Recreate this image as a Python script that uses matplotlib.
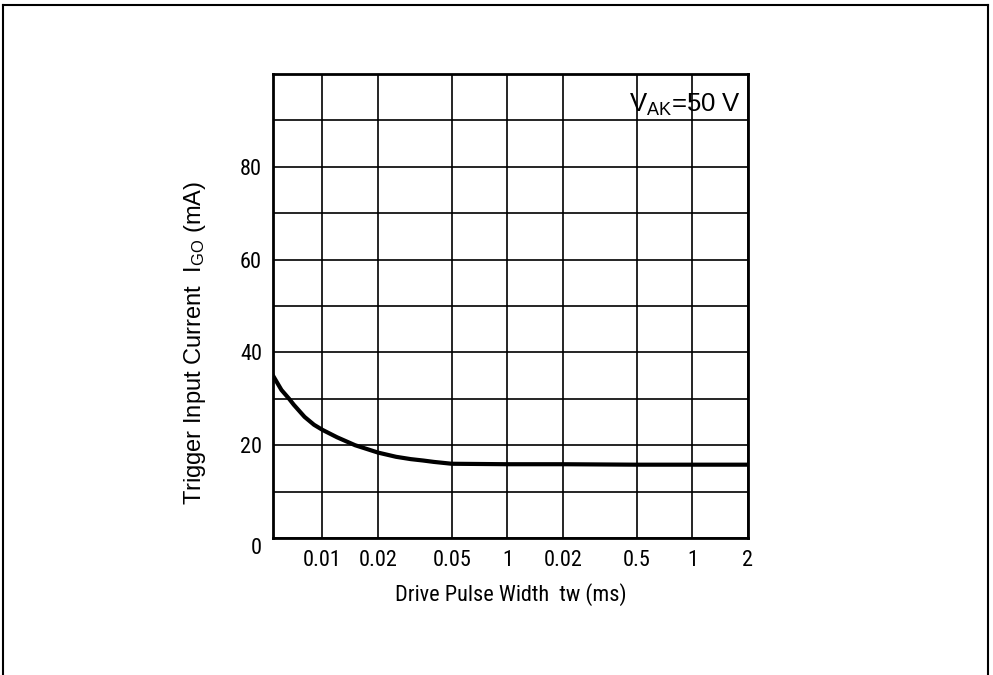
import matplotlib
matplotlib.use("Agg")
import matplotlib.pyplot as plt
from matplotlib import font_manager
from matplotlib.lines import Line2D

# ---- data ----
pulse_width_ms = [0.0054, 0.006, 0.0066, 0.007, 0.008, 0.009, 0.01, 0.012, 0.015, 0.02,
                  0.025, 0.03, 0.035, 0.04, 0.05, 0.1, 0.2, 0.5, 1, 2]
trigger_current_mA = [35.0, 31.9, 30.0, 28.7, 26.1, 24.4, 23.3, 21.7, 20.0, 18.4,
                      17.5, 17.0, 16.7, 16.4, 16.0, 15.9, 15.9, 15.8, 15.8, 15.8]
x_tick_values = [0.01, 0.02, 0.05, 0.1, 0.2, 0.5, 1, 2]
x_tick_labels = ["0.01", "0.02", "0.05", "1", "0.02", "0.5", "1", "2"]
y_tick_values = [0, 10, 20, 30, 40, 50, 60, 70, 80, 90]
y_tick_labels = ["0", "", "20", "", "40", "", "60", "", "80", ""]

# ---- font choice ----
names = {f.name for f in font_manager.fontManager.ttflist}
def pick(cands):
    for c in cands:
        if c in names:
            return c
    return "DejaVu Sans"
narrow = pick(["Liberation Sans Narrow", "Roboto Condensed", "DejaVu Sans Condensed", "Liberation Sans"])
wide = pick(["Liberation Sans", "Roboto", "DejaVu Sans"])
plt.rcParams["font.family"] = [narrow, "DejaVu Sans"]
plt.rcParams["mathtext.fontset"] = "custom"
plt.rcParams["mathtext.rm"] = wide
plt.rcParams["mathtext.it"] = wide

fig = plt.figure(figsize=(9.93, 6.75), dpi=100)
ax = fig.add_axes([273 / 993, 1 - 538 / 675, 475 / 993, 464 / 675])

ax.plot(pulse_width_ms, trigger_current_mA, color="black", lw=3.0,
        solid_joinstyle="round", zorder=3)

ax.set_xscale("log")
ax.set_xlim(0.0054, 2)
ax.set_ylim(0, 100)
ax.set_xticks(x_tick_values)
ax.set_xticklabels(x_tick_labels)
ax.xaxis.set_minor_locator(matplotlib.ticker.NullLocator())
ax.set_yticks(y_tick_values)
ax.set_yticklabels(y_tick_labels)
ax.tick_params(axis="both", length=0, labelsize=16)
ax.tick_params(axis="y", pad=8)
ax.tick_params(axis="x", pad=9)
ax.yaxis.get_major_ticks()[0].label1.set_verticalalignment("top")
ax.grid(True, color="black", lw=1.2)
for s in ax.spines.values():
    s.set_linewidth(2.0)

ax.set_xlabel("Drive Pulse Width  tw (ms)", fontsize=16, labelpad=8)
ax.set_ylabel(r"Trigger Input Current  $\mathregular{I_{GO}}$ (mA)", fontsize=17,
              family=[wide, "DejaVu Sans"])
ax.yaxis.set_label_coords(-0.137, 0.42)

ax.text(0.985, 0.934, r"$\mathregular{V_{AK}}$=50 V", transform=ax.transAxes,
        ha="right", va="center", fontsize=18.5, family=[wide, "DejaVu Sans"])

# outer frame (left, top, right)
for xs, ys in [([3 / 993, 3 / 993], [0, 1 - 5 / 675]),
               ([3 / 993, 988 / 993], [1 - 5 / 675, 1 - 5 / 675]),
               ([988 / 993, 988 / 993], [0, 1 - 5 / 675])]:
    fig.add_artist(Line2D(xs, ys, transform=fig.transFigure, color="black", lw=1.5))

fig.savefig("out.png", dpi=100)
